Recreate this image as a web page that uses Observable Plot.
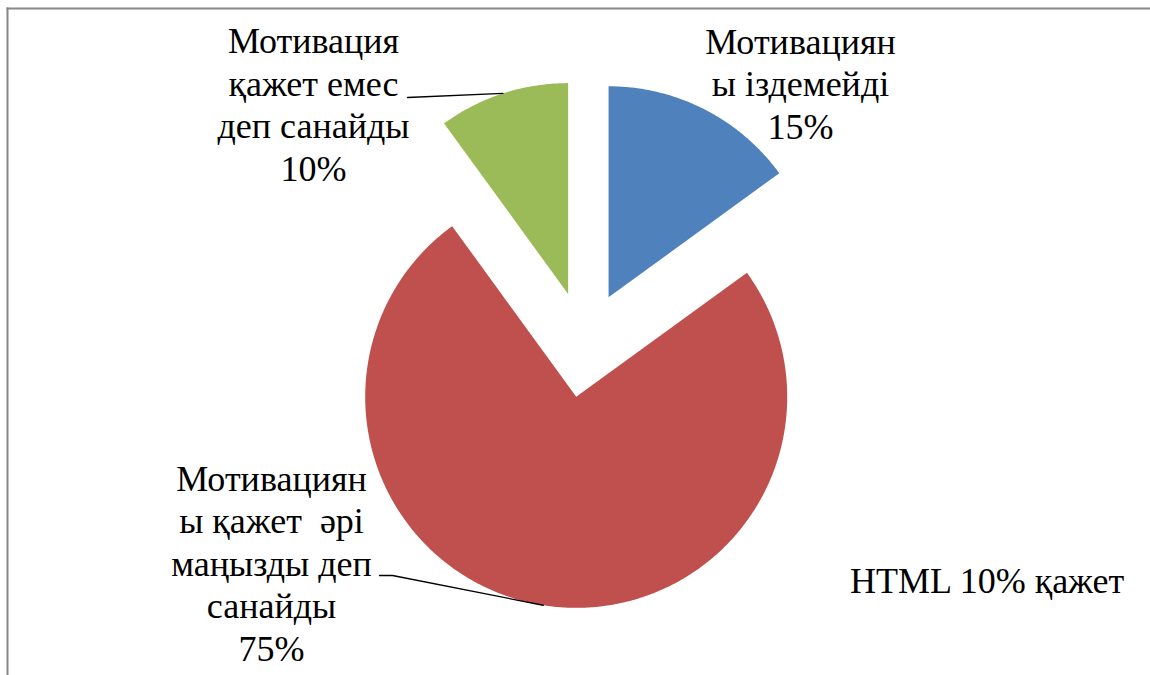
<!DOCTYPE html>
<html><head><meta charset="utf-8">
<script src="https://cdn.jsdelivr.net/npm/d3@7"></script>
<script src="https://cdn.jsdelivr.net/npm/@observablehq/plot@0.6"></script>
<style>body{margin:0;background:#fff;overflow:hidden}</style>
</head><body><div id="chart" style="position:relative"></div>
<script>
// ---- data ----
const categories = ["Мотивацияны іздемейді", "Мотивацияны қажет әрі маңызды деп санайды", "Мотивация қажет емес деп санайды"];
const labelTexts = ["Мотивациян\nы іздемейді", "Мотивациян\nы қажет \u00a0әрі\nмаңызды деп\nсанайды", "Мотивация\nқажет емес\nдеп санайды"];
const values = [15, 75, 10];
const colors = ["#4F81BD", "#C0504D", "#9BBB59"];

// ---- layout ----
const W = 1150, H = 675;
const center = [584, 344], radius = 211, explode = 53;
const fontSize = 36, lineStep = 42.5;
const labelPos = [[800, 84], [271, 563.5], [313, 105]];
const leaderStart = [null, [[379, 575], [392, 575]], [[407, 97]]];

const arcs = d3.pie().sort(null).value(d => d)(values);
const slicePts = [], leaderPts = [], labelLines = [];
arcs.forEach((a, i) => {
  const mid = (a.startAngle + a.endAngle) / 2;
  const ox = center[0] + explode * Math.sin(mid), oy = center[1] - explode * Math.cos(mid);
  slicePts.push({cat: categories[i], x: ox, y: oy});
  const n = Math.max(2, Math.ceil((a.endAngle - a.startAngle) / (Math.PI / 360)));
  for (let k = 0; k <= n; k++) {
    const t = a.startAngle + (a.endAngle - a.startAngle) * k / n;
    slicePts.push({cat: categories[i], x: ox + radius * Math.sin(t), y: oy - radius * Math.cos(t)});
  }
  if (leaderStart[i]) {
    leaderStart[i].forEach(p => leaderPts.push({id: i, x: p[0], y: p[1]}));
    leaderPts.push({id: i, x: ox + radius * Math.sin(mid), y: oy - radius * Math.cos(mid)});
  }
  const lines = `${labelTexts[i]}\n${values[i]}%`.split("\n");
  lines.forEach((s, k) => labelLines.push({x: labelPos[i][0], y: labelPos[i][1] + (k - (lines.length - 1) / 2) * lineStep, text: s}));
});

const chart = Plot.plot({
  width: W, height: H,
  marginLeft: 7, marginTop: 8, marginRight: 0, marginBottom: 0,
  x: {domain: [0, W], range: [0, W], axis: null},
  y: {domain: [0, H], range: [0, H], axis: null},
  color: {domain: categories, range: colors},
  marks: [
    Plot.frame({anchor: "left", stroke: "#878787", strokeWidth: 2}),
    Plot.frame({anchor: "top", stroke: "#878787", strokeWidth: 2}),
    Plot.line(slicePts, {x: "x", y: "y", z: "cat", fill: "cat", stroke: "none", curve: "linear-closed"}),
    Plot.line(leaderPts, {x: "x", y: "y", z: "id", stroke: "#000", strokeWidth: 1.3}),
    Plot.text(labelLines, {x: "x", y: "y", text: "text", fontSize: fontSize, fontFamily: "Liberation Serif", fill: "#000", textAnchor: "middle"})
  ]
});
chart.setAttribute("font-family", "Liberation Serif");
document.getElementById("chart").appendChild(chart);
const d = document.createElement("div");
d.style.cssText = "position:absolute;left:850px;top:560px;font:36px 'Liberation Serif'";
d.textContent = "HTML 10% қажет";
document.getElementById("chart").appendChild(d);
</script>
</body></html>
